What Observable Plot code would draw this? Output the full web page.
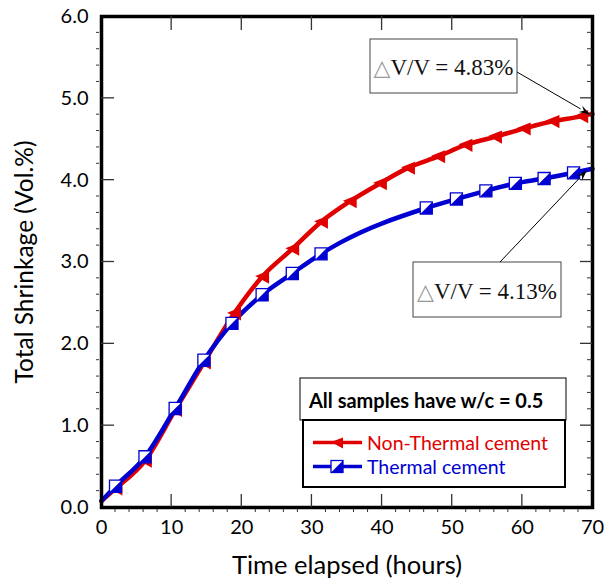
<!DOCTYPE html>
<html><head><meta charset="utf-8">
<script src="https://cdn.jsdelivr.net/npm/d3@7"></script>
<script src="https://cdn.jsdelivr.net/npm/@observablehq/plot@0.6"></script>
<style>body{margin:0;background:#fff}#chart{width:608px;height:582px}</style>
</head><body><div id="chart"></div>
<script>
// ---- data ----
const nonThermalHours = [0, 2.0, 6.2, 10.5, 14.6, 18.9, 22.9, 27.2, 31.3, 35.4, 39.7, 43.7, 48.0, 51.9, 56.1, 60.2, 64.3, 68.4, 70];
const nonThermalShrink = [0.08, 0.23, 0.57, 1.19, 1.77, 2.37, 2.82, 3.16, 3.49, 3.74, 3.96, 4.15, 4.29, 4.43, 4.53, 4.63, 4.72, 4.78, 4.81];
const nonThermalMarker = [0, 1, 1, 1, 1, 1, 1, 1, 1, 1, 1, 1, 1, 1, 1, 1, 1, 1, 0];

const thermalHours = [0, 2.0, 6.2, 10.5, 14.6, 18.6, 22.9, 27.2, 31.3, 34.1, 46.3, 50.6, 54.8, 59.0, 63.1, 67.3, 70];
const thermalShrink = [0.08, 0.26, 0.62, 1.21, 1.80, 2.25, 2.60, 2.86, 3.10, 3.24, 3.66, 3.77, 3.87, 3.96, 4.02, 4.09, 4.14];
const thermalMarker = [0, 1, 1, 1, 1, 1, 1, 1, 1, 0, 1, 1, 1, 1, 1, 1, 0];

const seriesNames = ["Non-Thermal cement", "Thermal cement"];
const seriesColors = ["#e00000", "#0000d0"];
const xTicks = [0, 10, 20, 30, 40, 50, 60, 70];
const yTicks = [0, 1, 2, 3, 4, 5, 6];
const xLabel = "Time elapsed (hours)";
const yLabel = "Total Shrinkage (Vol.%)";
const legendTitle = "All samples have w/c = 0.5";
const annotationValues = ["4.83%", "4.13%"];

// ---- build ----
const red = seriesColors[0], blue = seriesColors[1];
const ntData = nonThermalHours.map((h, i) => ({h, v: nonThermalShrink[i], m: nonThermalMarker[i]}));
const thData = thermalHours.map((h, i) => ({h, v: thermalShrink[i], m: thermalMarker[i]}));

const triLeft = {draw(ctx, size) {const s = Math.sqrt(size) / 2; ctx.moveTo(-s, -0.1 * s); ctx.lineTo(s, -0.9 * s); ctx.lineTo(s, s); ctx.closePath();}};
const sq = {draw(ctx, size) {const s = Math.sqrt(size) / 2; ctx.moveTo(-s, -s); ctx.lineTo(s, -s); ctx.lineTo(s, s); ctx.lineTo(-s, s); ctx.closePath();}};
const halfSq = {draw(ctx, size) {const s = Math.sqrt(size) / 2; ctx.moveTo(s, -s); ctx.lineTo(s, s); ctx.lineTo(-s, s); ctx.closePath();}};

const plot = Plot.plot({
  width: 608, height: 582,
  marginLeft: 101, marginRight: 16, marginTop: 16, marginBottom: 75,
  style: {fontFamily: "Lato, sans-serif", fontSize: "20px", color: "#000", background: "#fff", overflow: "visible"},
  x: {domain: [0, 70]},
  y: {domain: [0, 6]},
  marks: [
    Plot.axisX({ticks: xTicks, tickSize: 0, tickPadding: 12, tickFormat: d => String(d), label: null, fontSize: 20}),
    Plot.axisY({ticks: yTicks, tickSize: 0, tickPadding: 13, tickFormat: d => d.toFixed(1), label: null, fontSize: 20}),
    Plot.text([xLabel], {text: d => d, frameAnchor: "bottom", dy: 58, fontSize: 25.5, lineAnchor: "middle", textAnchor: "middle"}),
    Plot.text([yLabel], {text: d => d, frameAnchor: "left", dx: -76, rotate: -90, fontSize: 24.5, lineAnchor: "middle", textAnchor: "middle"}),
    Plot.line(ntData, {x: "h", y: "v", stroke: red, strokeWidth: 4.5, curve: "monotone-x"}),
    Plot.line(thData, {x: "h", y: "v", stroke: blue, strokeWidth: 4.5, curve: "monotone-x"}),
    Plot.dot(ntData.filter(d => d.m), {x: "h", y: "v", symbol: triLeft, r: 7.8, fill: red, stroke: "none"}),
    Plot.dot(thData.filter(d => d.m), {x: "h", y: "v", symbol: sq, r: 6.8, fill: "white", stroke: blue, strokeWidth: 1.3}),
    Plot.dot(thData.filter(d => d.m), {x: "h", y: "v", symbol: halfSq, r: 6.8, fill: blue, stroke: "none"}),
    Plot.frame({stroke: "#000", strokeWidth: 3.5})
  ]
});
document.getElementById("chart").appendChild(plot);

const xs = plot.scale("x"), ys = plot.scale("y");
const X = v => xs.apply(v), Y = v => ys.apply(v);
const svg = d3.select(plot);
const g = svg.append("g").attr("text-anchor", "start");
const x0 = X(0), x1 = X(70), y0 = Y(0), y1 = Y(6);

// major ticks (inside, all four sides)
xTicks.slice(1, -1).forEach(t => {
  g.append("line").attr("x1", X(t)).attr("x2", X(t)).attr("y1", y0).attr("y2", y0 - 13).attr("stroke", "#333").attr("stroke-width", 1.3);
  g.append("line").attr("x1", X(t)).attr("x2", X(t)).attr("y1", y1).attr("y2", y1 + 14).attr("stroke", "#333").attr("stroke-width", 1.3);
});
yTicks.slice(1, -1).forEach(t => {
  g.append("line").attr("x1", x0).attr("x2", x0 + 13).attr("y1", Y(t)).attr("y2", Y(t)).attr("stroke", "#333").attr("stroke-width", 1.3);
  g.append("line").attr("x1", x1).attr("x2", x1 - 12).attr("y1", Y(t)).attr("y2", Y(t)).attr("stroke", "#333").attr("stroke-width", 1.3);
});
// minor ticks
d3.range(2, 70, 2).forEach(t => {
  if (t % 10) g.append("line").attr("x1", X(t)).attr("x2", X(t)).attr("y1", y0 + 2).attr("y2", y0 + 5).attr("stroke", "#333").attr("stroke-width", 1);
});
d3.range(1, 30).forEach(k => {
  if (k % 5) {
    const t = k / 5;
    g.append("line").attr("x1", x0 - 2).attr("x2", x0 - 5).attr("y1", Y(t)).attr("y2", Y(t)).attr("stroke", "#333").attr("stroke-width", 1);
    g.append("line").attr("x1", x1).attr("x2", x1 - 5).attr("y1", Y(t)).attr("y2", Y(t)).attr("stroke", "#333").attr("stroke-width", 1);
  }
});

// annotations
function arrow(xa, ya, xb, yb) {
  const a = Math.atan2(yb - ya, xb - xa), L = 11, w = 3.5;
  const bx = xb - L * Math.cos(a), by = yb - L * Math.sin(a);
  g.append("line").attr("x1", xa).attr("y1", ya).attr("x2", bx).attr("y2", by).attr("stroke", "#000").attr("stroke-width", 1);
  g.append("path").attr("d", `M${xb},${yb}L${bx - w * Math.sin(a)},${by + w * Math.cos(a)}L${bx + 0.35 * L * Math.cos(a)},${by + 0.35 * L * Math.sin(a)}L${bx + w * Math.sin(a)},${by - w * Math.cos(a)}Z`).attr("fill", "#000");
}
function annot(bx, by, bw, bh, label, ax, ay, tx, ty) {
  g.append("rect").attr("x", bx).attr("y", by).attr("width", bw).attr("height", bh).attr("fill", "white").attr("stroke", "#444").attr("stroke-width", 1);
  const t = g.append("text").attr("x", bx + bw / 2).attr("y", by + bh / 2 + 1).attr("text-anchor", "middle").attr("dominant-baseline", "central")
    .attr("font-family", "'Liberation Serif', serif").attr("font-size", 23).attr("fill", "#111");
  t.append("tspan").attr("fill", "#999").attr("font-family", "'DejaVu Sans', sans-serif").attr("font-size", 22).text("\u25B3");
  t.append("tspan").text("V/V = " + label);
  arrow(ax, ay, tx, ty);
}
annot(370, 39, 147, 54, annotationValues[0], 517, 72, X(nonThermalHours.at(-1)) - 2, Y(nonThermalShrink.at(-1)) + 1);
annot(413, 262, 148, 55, annotationValues[1], 500, 262, X(thermalHours.at(-1)) - 5, Y(thermalShrink.at(-1)) + 2);

// legend
g.append("rect").attr("x", 300).attr("y", 378).attr("width", 266).attr("height", 42).attr("fill", "white").attr("stroke", "#000").attr("stroke-width", 1);
g.append("text").attr("x", 309).attr("y", 400).attr("text-anchor", "start").attr("dominant-baseline", "central").attr("font-family", "Lato, sans-serif").attr("font-weight", "bold").attr("font-size", 20).attr("fill", "#000").text(legendTitle);
g.append("rect").attr("x", 303).attr("y", 420).attr("width", 262).attr("height", 67).attr("fill", "white").attr("stroke", "#000").attr("stroke-width", 2);
const ly = [442.5, 466.5];
seriesNames.forEach((name, i) => {
  g.append("line").attr("x1", 313).attr("x2", 362).attr("y1", ly[i]).attr("y2", ly[i]).attr("stroke", seriesColors[i]).attr("stroke-width", 3.5);
  g.append("text").attr("x", 367).attr("y", ly[i]).attr("text-anchor", "start").attr("dominant-baseline", "central").attr("font-family", "Lato, sans-serif").attr("font-size", 19.5).attr("fill", seriesColors[i]).text(name);
});
const s = 6;
g.append("path").attr("d", `M${337 - s},${ly[0] - 0.6}L${337 + s},${ly[0] - 5}L${337 + s},${ly[0] + 6}Z`).attr("fill", red);
g.append("rect").attr("x", 337 - s).attr("y", ly[1] - s).attr("width", 2 * s).attr("height", 2 * s).attr("fill", "white").attr("stroke", blue).attr("stroke-width", 1.3);
g.append("path").attr("d", `M${337 + s},${ly[1] - s}L${337 + s},${ly[1] + s}L${337 - s},${ly[1] + s}Z`).attr("fill", blue);
</script></body></html>
